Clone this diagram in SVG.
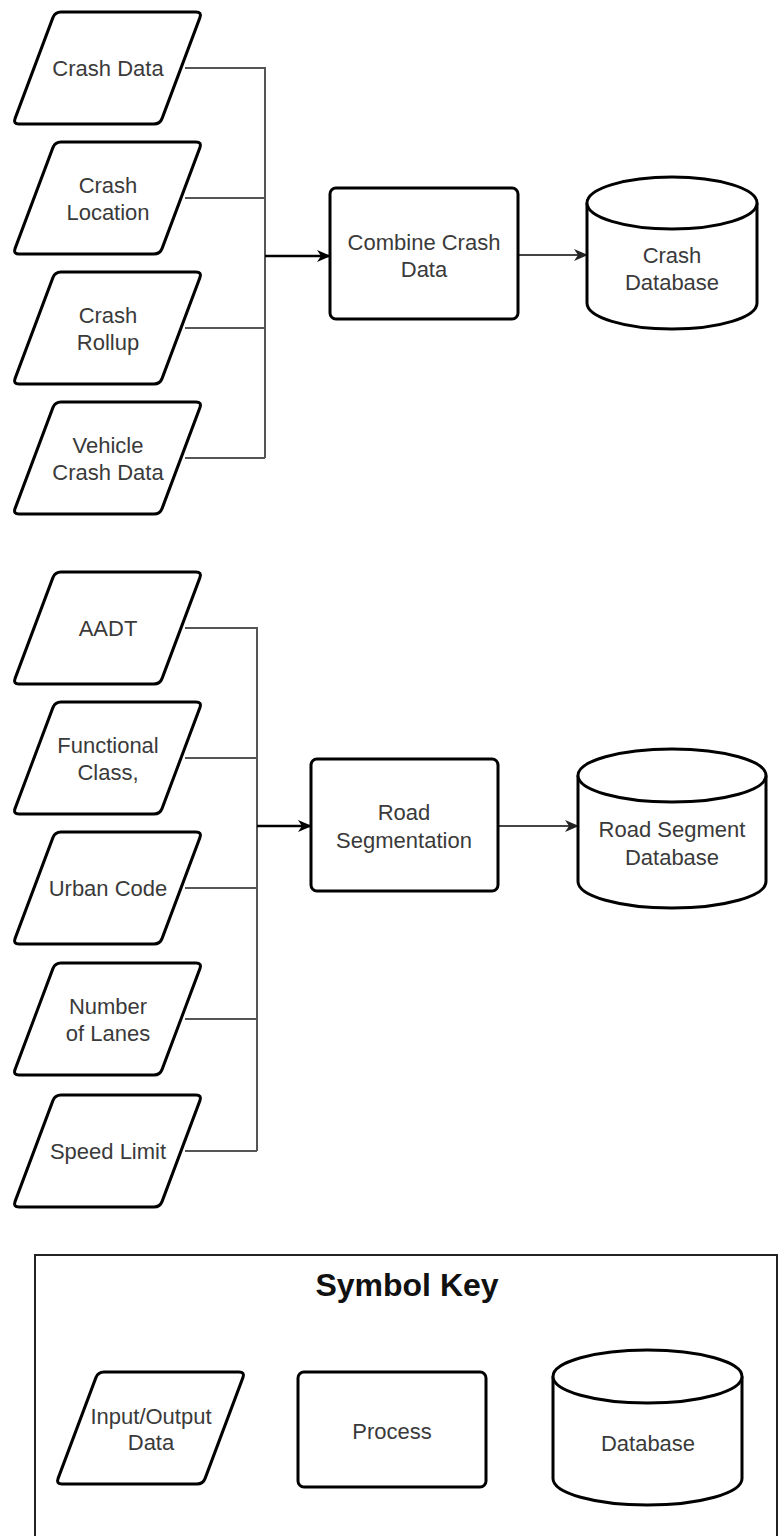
<svg xmlns="http://www.w3.org/2000/svg" width="779" height="1536" viewBox="0 0 779 1536">
<style>
.shape{fill:#fff;stroke:#000;stroke-width:3;stroke-linejoin:round}
.lbl{font-family:"Liberation Sans",Arial,sans-serif;font-size:22px;fill:#3a3a3a;text-anchor:middle;dominant-baseline:central}
.title{font-family:"Liberation Sans",Arial,sans-serif;font-size:32px;font-weight:bold;fill:#111;text-anchor:middle}
.in{fill:none;stroke:#555;stroke-width:2}
.main{fill:none;stroke:#000;stroke-width:2.5}
.out{fill:none;stroke:#444;stroke-width:2}
</style>
<defs>
<path id="para" d="M48,0 L183,0 Q189,0 186.9,5.6 L149.1,106.4 Q147,112 141,112 L6,112 Q0,112 2.1,106.4 L39.9,5.6 Q42,0 48,0 Z"/>
<marker id="ah" viewBox="0 0 14 12" refX="13" refY="6" markerWidth="14" markerHeight="12" markerUnits="userSpaceOnUse" orient="auto">
<path d="M0,0 L14,6 L0,12 L4,6 Z" fill="#000"/>
</marker>
<marker id="ah2" viewBox="0 0 14 12" refX="13" refY="6" markerWidth="14" markerHeight="12" markerUnits="userSpaceOnUse" orient="auto">
<path d="M0,0 L14,6 L0,12 L4,6 Z" fill="#222"/>
</marker>
</defs>

<g id="connectors">
<path class="in" d="M185,68 H265 V458 M185,198 H265 M185,328 H265 M185,458 H265"/>
<line class="main" x1="265" y1="256" x2="330" y2="256" marker-end="url(#ah)"/>
<line class="out" x1="518" y1="255" x2="587" y2="255" marker-end="url(#ah2)"/>
<path class="in" d="M185,628 H257 V1151 M185,758 H257 M185,888 H257 M185,1019 H257 M185,1151 H257"/>
<line class="main" x1="257" y1="826" x2="311" y2="826" marker-end="url(#ah)"/>
<line class="out" x1="498" y1="826" x2="578" y2="826" marker-end="url(#ah2)"/>
</g>

<g id="crash-data">
<use href="#para" class="shape" x="13" y="12"/>
<text class="lbl" x="108" y="68">Crash Data</text>
</g>
<g id="crash-location">
<use href="#para" class="shape" x="13" y="142"/>
<text class="lbl" x="108" y="185">Crash</text>
<text class="lbl" x="108" y="212">Location</text>
</g>
<g id="crash-rollup">
<use href="#para" class="shape" x="13" y="272"/>
<text class="lbl" x="108" y="315">Crash</text>
<text class="lbl" x="108" y="342">Rollup</text>
</g>
<g id="vehicle-crash-data">
<use href="#para" class="shape" x="13" y="402"/>
<text class="lbl" x="108" y="445">Vehicle</text>
<text class="lbl" x="108" y="472">Crash Data</text>
</g>

<g id="combine-crash-data">
<rect class="shape" x="330" y="188" width="188" height="131" rx="6"/>
<text class="lbl" x="424" y="242">Combine Crash</text>
<text class="lbl" x="424" y="269">Data</text>
</g>

<g id="crash-database">
<path class="shape" d="M587,203 V303 A85,26 0 0 0 757,303 V203"/>
<ellipse class="shape" cx="672" cy="203" rx="85" ry="26"/>
<text class="lbl" x="672" y="255">Crash</text>
<text class="lbl" x="672" y="282">Database</text>
</g>

<g id="aadt">
<use href="#para" class="shape" x="13" y="572"/>
<text class="lbl" x="108" y="628">AADT</text>
</g>
<g id="functional-class">
<use href="#para" class="shape" x="13" y="702"/>
<text class="lbl" x="108" y="745">Functional</text>
<text class="lbl" x="108" y="772">Class,</text>
</g>
<g id="urban-code">
<use href="#para" class="shape" x="13" y="832"/>
<text class="lbl" x="108" y="888">Urban Code</text>
</g>
<g id="number-of-lanes">
<use href="#para" class="shape" x="13" y="963"/>
<text class="lbl" x="108" y="1006">Number</text>
<text class="lbl" x="108" y="1033">of Lanes</text>
</g>
<g id="speed-limit">
<use href="#para" class="shape" x="13" y="1095"/>
<text class="lbl" x="108" y="1151">Speed Limit</text>
</g>

<g id="road-segmentation">
<rect class="shape" x="311" y="759" width="187" height="132" rx="6"/>
<text class="lbl" x="404" y="812">Road</text>
<text class="lbl" x="404" y="840">Segmentation</text>
</g>

<g id="road-segment-database">
<path class="shape" d="M578,775.5 V881.5 A94,26.5 0 0 0 766,881.5 V775.5"/>
<ellipse class="shape" cx="672" cy="775.5" rx="94" ry="26.5"/>
<text class="lbl" x="672" y="829">Road Segment</text>
<text class="lbl" x="672" y="857">Database</text>
</g>

<g id="symbol-key">
<rect x="35" y="1255" width="742" height="300" fill="none" stroke="#222" stroke-width="2"/>
<text class="title" x="407" y="1296">Symbol Key</text>
</g>
<g id="key-io">
<use href="#para" class="shape" x="56" y="1372"/>
<text class="lbl" x="151" y="1416">Input/Output</text>
<text class="lbl" x="151" y="1442">Data</text>
</g>
<g id="key-process">
<rect class="shape" x="298" y="1372" width="188" height="115" rx="6"/>
<text class="lbl" x="392" y="1431">Process</text>
</g>
<g id="key-database">
<path class="shape" d="M553,1376.5 V1478.5 A94.5,26.5 0 0 0 742,1478.5 V1376.5"/>
<ellipse class="shape" cx="647.5" cy="1376.5" rx="94.5" ry="26.5"/>
<text class="lbl" x="648" y="1443">Database</text>
</g>
</svg>
